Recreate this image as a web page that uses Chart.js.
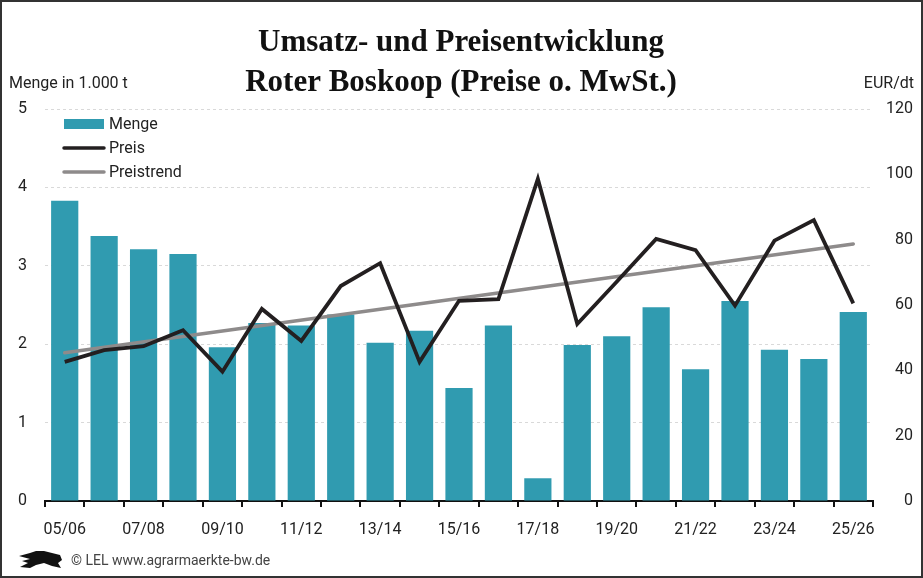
<!DOCTYPE html>
<html>
<head>
<meta charset="utf-8">
<script src="https://cdn.jsdelivr.net/npm/chart.js@4"></script>
<style>
html,body{margin:0;padding:0;background:#fff;}
#wrap{width:923px;height:578px;position:relative;}
</style>
</head>
<body>
<div id="wrap"><canvas id="c" width="923" height="578"></canvas></div>
<script>
const categories = ["05/06","06/07","07/08","08/09","09/10","10/11","11/12","12/13","13/14","14/15","15/16","16/17","17/18","18/19","19/20","20/21","21/22","22/23","23/24","24/25","25/26"];
const menge = [3.83,3.38,3.21,3.15,1.96,2.27,2.24,2.38,2.02,2.17,1.44,2.24,0.29,1.99,2.10,2.47,1.68,2.55,1.93,1.81,2.41];
const preis = [42.6,46.2,47.4,52.3,39.6,58.8,49.0,65.8,72.8,42.6,61.3,61.8,98.6,54.2,67.1,80.2,76.8,59.8,79.7,86.0,60.5];
const preistrend = [45.4,null,null,null,null,null,null,null,null,null,null,null,null,null,null,null,null,null,null,null,78.7];
const leftTicks = [0,1,2,3,4,5];
const rightTicks = [0,20,40,60,80,100,120];
const titleLines = ["Umsatz- und Preisentwicklung","Roter Boskoop (Preise o. MwSt.)"];

const SANS = "Roboto, 'Liberation Sans', sans-serif";
const TEAL = "#309bb0";

const decor = {
  id: 'decor',
  afterDraw(chart) {
    const ctx = chart.ctx;
    ctx.save();
    // title
    ctx.fillStyle = "#111";
    ctx.textAlign = "center";
    ctx.textBaseline = "alphabetic";
    ctx.font = "bold 31px 'Liberation Serif', serif";
    ctx.fillText(titleLines[0], 461, 51);
    ctx.fillText(titleLines[1], 461, 91);
    // axis titles
    ctx.font = "16px " + SANS;
    ctx.fillStyle = "#222";
    ctx.textAlign = "left";
    ctx.fillText("Menge in 1.000 t", 9, 88);
    ctx.textAlign = "right";
    ctx.fillText("EUR/dt", 914, 88);
    // legend
    const ds = chart.data.datasets;
    const lx = 64, ys = [124, 148, 172];
    ctx.textAlign = "left";
    ctx.textBaseline = "middle";
    ctx.font = "16px " + SANS;
    ds.forEach((d, i) => {
      const y = ys[i];
      if (d.type === 'bar') {
        ctx.fillStyle = d.backgroundColor;
        ctx.fillRect(lx, y - 5, 40, 10);
      } else {
        ctx.strokeStyle = d.borderColor;
        ctx.lineWidth = 3.5;
        ctx.lineCap = "round";
        ctx.beginPath();
        ctx.moveTo(lx, y);
        ctx.lineTo(lx + 40, y);
        ctx.stroke();
      }
      ctx.fillStyle = "#222";
      ctx.fillText(d.label, lx + 45, y + 1);
    });
    // footer
    ctx.font = "14px " + SANS;
    ctx.fillStyle = "#444";
    ctx.textBaseline = "middle";
    ctx.fillText("© LEL www.agrarmaerkte-bw.de", 71, 561);
    // small lion-like emblem
    ctx.fillStyle = "#111";
    ctx.beginPath();
    ctx.moveTo(19,556); ctx.lineTo(30,553); ctx.lineTo(36,551); ctx.lineTo(44,551);
    ctx.lineTo(52,553); ctx.lineTo(60,555); ctx.lineTo(62,560); ctx.lineTo(58,563);
    ctx.lineTo(61,568); ctx.lineTo(52,566); ctx.lineTo(44,563); ctx.lineTo(36,565);
    ctx.lineTo(30,568); ctx.lineTo(20,567); ctx.lineTo(28,563); ctx.lineTo(22,561);
    ctx.lineTo(30,559); ctx.closePath(); ctx.fill();
    // border
    ctx.strokeStyle = "#333";
    ctx.lineWidth = 2;
    ctx.strokeRect(1, 1, 921, 576);
    ctx.restore();
  }
};

new Chart(document.getElementById('c'), {
  data: {
    labels: categories,
    datasets: [
      { type: 'bar', label: 'Menge', data: menge, backgroundColor: TEAL, yAxisID: 'y', order: 3,
        categoryPercentage: 1, barPercentage: 0.69 },
      { type: 'line', label: 'Preis', data: preis, borderColor: '#231f20', borderWidth: 3.8,
        pointRadius: 0, yAxisID: 'y1', order: 1, tension: 0, borderJoinStyle: 'miter' },
      { type: 'line', label: 'Preistrend', data: preistrend, borderColor: '#8e8b8b', borderWidth: 3.5,
        pointRadius: 0, yAxisID: 'y1', order: 2, spanGaps: true, borderCapStyle: 'round' }
    ]
  },
  options: {
    responsive: false,
    animation: false,
    devicePixelRatio: 1,
    layout: { padding: { top: 109, left: 0, right: 10, bottom: 0 } },
    plugins: { legend: { display: false }, tooltip: { enabled: false }, title: { display: false } },
    scales: {
      x: {
        offset: true,
        afterFit(s) { s.height = 77; },
        grid: { offset: true, drawOnChartArea: false, drawTicks: true, tickLength: 6, color: '#111', lineWidth: 2 },
        border: { display: true, color: '#111', width: 2 },
        ticks: { autoSkip: false, maxRotation: 0, padding: 13, color: '#222', font: { family: SANS, size: 16 },
          callback(v, i) { return i % 2 === 0 ? categories[i] : ''; } }
      },
      y: {
        position: 'left', min: 0, max: 5,
        afterFit(s) { s.width = 45; },
        afterBuildTicks(s) { s.ticks = leftTicks.map(v => ({ value: v })); },
        grid: { drawTicks: false, color: '#d9d9d9', lineWidth: 1 },
        border: { display: false, dash: [3, 3] },
        ticks: { padding: 18, color: '#222', font: { family: SANS, size: 16 } }
      },
      y1: {
        position: 'right', min: 0, max: 120,
        afterFit(s) { s.width = 40; },
        afterBuildTicks(s) { s.ticks = rightTicks.map(v => ({ value: v })); },
        grid: { display: false, drawTicks: false },
        border: { display: false },
        ticks: { crossAlign: 'far', padding: 0, color: '#222', font: { family: SANS, size: 16 } }
      }
    }
  },
  plugins: [decor]
});
</script>
</body>
</html>
